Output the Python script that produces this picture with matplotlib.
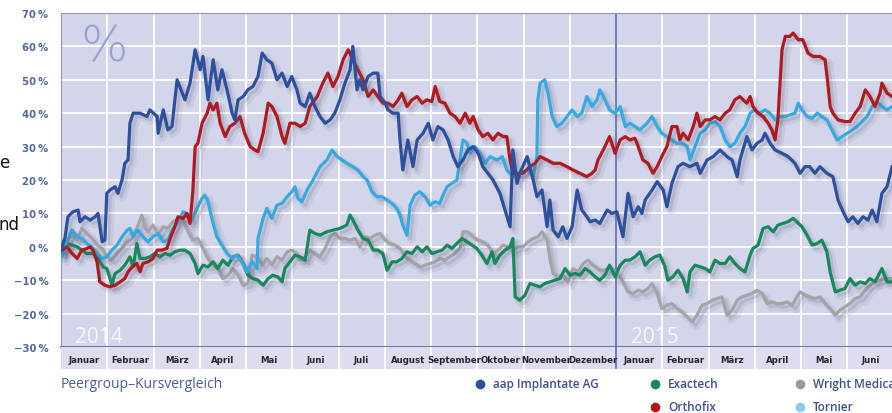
import matplotlib
matplotlib.use('Agg')
import matplotlib.pyplot as plt
import matplotlib.patheffects as pe
from matplotlib.lines import Line2D

# Monatsachse: 0 = Anfang Januar 2014, 18 = Ende Juni 2015; Werte in Prozent
months = ['Januar', 'Februar', 'März', 'April', 'Mai', 'Juni', 'Juli', 'August',
          'September', 'Oktober', 'November', 'Dezember',
          'Januar', 'Februar', 'März', 'April', 'Mai', 'Juni']
y_ticks = [-30, -20, -10, 0, 10, 20, 30, 40, 50, 60, 70]

aap_x = [0.00, 0.09, 0.15, 0.26, 0.37, 0.41, 0.52, 0.63, 0.74, 0.80, 0.89, 0.95, 0.99, 1.06, 1.17, 1.23,
         1.32, 1.38, 1.45, 1.49, 1.56, 1.71, 1.86, 1.92, 2.08, 2.10, 2.21, 2.31, 2.40, 2.51, 2.68, 2.79,
         2.90, 3.01, 3.07, 3.18, 3.29, 3.39, 3.48, 3.59, 3.70, 3.76, 3.83, 3.94, 4.04, 4.15, 4.26, 4.35,
         4.45, 4.56, 4.67, 4.78, 4.89, 4.99, 5.10, 5.17, 5.28, 5.38, 5.49, 5.60, 5.71, 5.82, 5.92, 6.03,
         6.14, 6.25, 6.31, 6.40, 6.46, 6.53, 6.64, 6.75, 6.85, 6.90, 7.01, 7.07, 7.18, 7.29, 7.33, 7.39,
         7.50, 7.61, 7.70, 7.83, 7.94, 8.04, 8.15, 8.26, 8.37, 8.48, 8.58, 8.69, 8.80, 8.91, 9.02, 9.12,
         9.23, 9.34, 9.49, 9.60, 9.71, 9.77, 9.86, 9.92, 10.08, 10.21, 10.29, 10.40, 10.51, 10.57, 10.64,
         10.75, 10.85, 10.94, 11.05, 11.16, 11.26, 11.37, 11.44, 11.55, 11.65, 11.81, 11.91, 12.02, 12.15,
         12.26, 12.37, 12.48, 12.56, 12.63, 12.78, 12.89, 13.02, 13.10, 13.21, 13.34, 13.45, 13.60, 13.75,
         13.82, 13.97, 14.10, 14.25, 14.40, 14.51, 14.62, 14.68, 14.83, 14.94, 15.05, 15.16, 15.22, 15.33,
         15.44, 15.59, 15.72, 15.87, 15.98, 16.09, 16.19, 16.30, 16.41, 16.56, 16.69, 16.80, 16.91, 17.02,
         17.12, 17.23, 17.34, 17.45, 17.54, 17.64, 17.75, 17.86, 17.97]
aap_y = [-1, 3, 9, 10.5, 11, 7.5, 9, 8, 9, 10, 1.5, 2, 16, 17, 18, 16,
         20, 25, 26, 37, 40, 40, 39, 41, 39, 34, 41, 35, 36, 50, 44, 49,
         59, 53, 57, 44, 56, 47, 53, 47, 40, 38, 44, 45, 47, 48, 51, 58,
         56, 55, 50, 52, 48, 51, 47, 43, 42, 46, 42, 39, 37, 38, 40, 44,
         49, 53, 60, 47, 50, 47, 51, 52, 52, 45, 43, 41, 40, 40, 32, 23,
         32, 24, 32, 34, 37, 32, 36, 35, 32, 27, 24, 26, 29, 30, 28, 24,
         22, 20, 16, 11, 6, 29, 19, 22, 27, 20, 15, 17, 6, 14, 5,
         3, 6, 2.5, 6, 17, 11, 9, 7.5, 8, 7, 11, 10, 10.5, 3,
         16, 9, 12, 10, 14, 17, 19.5, 17, 12, 19, 24, 25, 24, 25,
         22, 26, 27, 29, 27, 26, 21, 26, 33, 29, 31, 32, 34, 31,
         29, 28, 27, 25, 22, 24, 24, 22, 24, 22, 21, 14, 10.5, 7.5,
         9, 7, 9, 8, 11, 7.5, 16, 18, 24]

ortho_x = [0.02, 0.13, 0.24, 0.35, 0.45, 0.56, 0.63, 0.69, 0.78, 0.84, 0.95, 1.06, 1.17, 1.28, 1.38, 1.45,
           1.54, 1.64, 1.71, 1.77, 1.88, 1.99, 2.08, 2.18, 2.29, 2.36, 2.46, 2.53, 2.64, 2.72, 2.79, 2.85,
           2.90, 2.96, 3.05, 3.16, 3.22, 3.29, 3.37, 3.44, 3.55, 3.65, 3.76, 3.87, 3.97, 4.09, 4.19, 4.26,
           4.37, 4.48, 4.56, 4.67, 4.78, 4.84, 4.95, 5.06, 5.17, 5.28, 5.38, 5.54, 5.66, 5.77, 5.88, 5.99,
           6.10, 6.21, 6.31, 6.42, 6.53, 6.64, 6.75, 6.85, 6.96, 7.07, 7.18, 7.29, 7.37, 7.48, 7.59, 7.70,
           7.81, 7.91, 8.02, 8.09, 8.19, 8.30, 8.41, 8.52, 8.63, 8.74, 8.84, 8.91, 9.02, 9.12, 9.23, 9.34,
           9.45, 9.56, 9.64, 9.71, 9.77, 9.88, 9.99, 10.14, 10.25, 10.36, 10.51, 10.64, 10.79, 10.94, 11.07,
           11.22, 11.37, 11.48, 11.55, 11.61, 11.65, 11.76, 11.86, 11.98, 12.09, 12.20, 12.30, 12.41, 12.48,
           12.58, 12.69, 12.80, 12.89, 12.99, 13.10, 13.21, 13.32, 13.38, 13.45, 13.56, 13.67, 13.75, 13.82,
           13.93, 14.03, 14.14, 14.25, 14.36, 14.46, 14.57, 14.68, 14.75, 14.83, 14.90, 14.96, 15.07, 15.18,
           15.29, 15.37, 15.44, 15.50, 15.59, 15.66, 15.76, 15.83, 15.94, 16.04, 16.15, 16.26, 16.41, 16.52,
           16.58, 16.63, 16.69, 16.80, 16.95, 17.06, 17.17, 17.28, 17.39, 17.49, 17.60, 17.71, 17.75, 17.86,
           17.97]
ortho_y = [-1, 0, -2, -3.5, -1, -0.5, 0, -1, -4.5, -10.5, -11.5, -12, -11.5, -10.5, -9.5, -7.5,
           -6, -5, -7.5, -5, -4.5, -3.5, -1, -1, -0.5, 2.5, 6, 9, 8.5, 10, 7, 16.5,
           30, 31, 37, 40, 43, 41, 43, 37, 33, 36, 37, 39, 34, 30, 29, 28.5,
           34, 43, 42, 39, 33, 31, 37, 37, 36, 37, 42, 45, 49, 52, 48, 51,
           56, 59, 56, 53, 50, 45, 47, 45, 43, 43, 42, 44, 46, 42, 44, 45,
           43, 44, 43.5, 48, 43.5, 43, 40, 39, 37, 40, 37, 39, 35, 33, 34, 32,
           34, 33, 33, 26, 22, 22, 22, 24, 25, 27, 26, 25, 25, 24, 23,
           22, 21, 22, 23, 26, 27, 30, 33, 28, 32, 33, 32, 32.5, 30,
           26, 25, 22, 24, 27, 30, 36, 36, 32, 34, 32, 36, 40, 36,
           38, 38, 39, 38, 40, 41, 44, 45, 44, 43, 45, 42, 40, 39,
           37, 35, 32, 38, 59, 63, 63, 64, 62, 62, 58, 57, 57, 56,
           49, 42, 40, 38, 37.5, 37.5, 40, 42, 47, 45, 42, 46, 49, 46,
           45]

tornier_x = [0.02, 0.13, 0.24, 0.35, 0.45, 0.56, 0.67, 0.78, 0.89, 0.99, 1.10, 1.21, 1.32, 1.43, 1.49, 1.56,
             1.66, 1.77, 1.88, 1.99, 2.10, 2.21, 2.31, 2.42, 2.53, 2.64, 2.72, 2.83, 2.94, 3.05, 3.11, 3.18,
             3.26, 3.37, 3.48, 3.59, 3.70, 3.81, 3.91, 4.02, 4.13, 4.24, 4.26, 4.37, 4.45, 4.56, 4.67, 4.78,
             4.89, 4.99, 5.06, 5.12, 5.21, 5.32, 5.45, 5.60, 5.75, 5.86, 5.97, 6.08, 6.18, 6.31, 6.42, 6.53,
             6.62, 6.72, 6.83, 6.94, 7.05, 7.16, 7.26, 7.33, 7.39, 7.48, 7.55, 7.65, 7.76, 7.87, 7.98, 8.09,
             8.19, 8.26, 8.35, 8.45, 8.56, 8.69, 8.78, 8.84, 8.95, 9.06, 9.17, 9.28, 9.43, 9.54, 9.64, 9.77,
             9.92, 10.08, 10.21, 10.29, 10.31, 10.36, 10.46, 10.53, 10.62, 10.72, 10.83, 10.94, 11.05, 11.16,
             11.26, 11.37, 11.48, 11.59, 11.65, 11.76, 11.86, 11.98, 12.09, 12.20, 12.30, 12.41, 12.52, 12.67,
             12.78, 12.89, 12.99, 13.10, 13.21, 13.32, 13.43, 13.54, 13.60, 13.71, 13.82, 13.93, 14.03, 14.14,
             14.25, 14.36, 14.46, 14.57, 14.68, 14.79, 14.90, 15.00, 15.11, 15.22, 15.33, 15.44, 15.55, 15.66,
             15.76, 15.87, 15.94, 16.02, 16.13, 16.24, 16.35, 16.45, 16.56, 16.67, 16.78, 16.89, 17.00, 17.11,
             17.21, 17.32, 17.43, 17.54, 17.64, 17.75, 17.86, 17.97]
tornier_y = [-3, 1.5, 5, 3, 2.5, 1, 0, -2, -3.5, -3, -1, 0.5, 3, 5, 5.5, 3,
             5, 3, 1.5, 3, 4, 1.5, 2, 5.5, 7.5, 10.5, 10, 8, 11.5, 14.5, 15.5, 13.5,
             8.5, 3, 0.5, -2, -3.5, -2.5, -4.5, -7.5, -4.5, -6.5, 2.5, 8.5, 11.5, 8.5, 12.5, 13,
             15, 16.5, 18, 14.5, 13.5, 17, 20, 24, 26, 29, 27, 26, 25, 24, 23, 21,
             20, 16.5, 15, 15, 14, 13, 11.5, 9.5, 6.5, 3.5, 12.5, 15.5, 16.5, 15, 12.5, 13.5,
             13, 15.5, 18, 19, 20, 32, 31, 28, 30, 28, 25, 27, 26, 27, 23, 21,
             22, 23, 21, 27, 44, 49, 50, 46, 39, 36, 37, 39, 41, 39,
             40, 45, 42, 44, 47, 44, 41, 40, 42, 36, 37, 36, 35, 37,
             39, 36, 34, 33, 32, 31, 31, 30, 26, 30, 34, 35, 37, 37.5,
             36, 32, 30, 31, 34, 36, 40, 41, 40, 41, 40, 38, 39, 39,
             39.5, 40, 43, 41, 39, 38.5, 40, 39, 38, 35, 32, 33, 34, 35,
             36, 37.5, 39, 42, 43.5, 42, 41, 42]

exactech_x = [0.02, 0.13, 0.24, 0.35, 0.45, 0.56, 0.67, 0.78, 0.84, 0.91, 0.99, 1.06, 1.10, 1.17, 1.28, 1.38,
              1.49, 1.56, 1.64, 1.71, 1.82, 1.92, 2.03, 2.14, 2.25, 2.36, 2.46, 2.57, 2.68, 2.79, 2.90, 2.96,
              3.07, 3.18, 3.29, 3.39, 3.50, 3.61, 3.72, 3.83, 3.94, 4.04, 4.15, 4.26, 4.37, 4.48, 4.58, 4.69,
              4.78, 4.84, 4.95, 5.06, 5.17, 5.28, 5.38, 5.49, 5.60, 5.75, 5.88, 6.03, 6.18, 6.25, 6.31, 6.42,
              6.53, 6.64, 6.75, 6.85, 6.96, 7.05, 7.16, 7.26, 7.37, 7.48, 7.59, 7.70, 7.81, 7.91, 8.02, 8.13,
              8.24, 8.35, 8.45, 8.56, 8.67, 8.78, 8.89, 8.99, 9.10, 9.21, 9.32, 9.38, 9.49, 9.60, 9.71, 9.77,
              9.82, 9.92, 10.03, 10.14, 10.25, 10.36, 10.46, 10.57, 10.68, 10.79, 10.90, 11.01, 11.11, 11.22,
              11.33, 11.44, 11.55, 11.65, 11.76, 11.86, 11.98, 12.09, 12.20, 12.30, 12.41, 12.52, 12.63, 12.73,
              12.84, 12.95, 13.06, 13.12, 13.23, 13.34, 13.45, 13.54, 13.60, 13.71, 13.82, 13.93, 14.03, 14.14,
              14.25, 14.36, 14.46, 14.57, 14.68, 14.79, 14.90, 14.96, 15.07, 15.18, 15.29, 15.40, 15.50, 15.61,
              15.72, 15.83, 15.91, 16.02, 16.13, 16.24, 16.35, 16.45, 16.56, 16.63, 16.74, 16.84, 16.95, 17.06,
              17.17, 17.28, 17.39, 17.49, 17.60, 17.75, 17.86, 17.97]
exactech_y = [-2, 1, 0.5, 0, -1, -2, -2, -2.5, -4.5, -6, -6.5, -9.5, -11.5, -8, -7, -5.5,
              -3, -6, 1, -3.5, -3.5, -3, -2, -3, -2, -2.5, -1.5, -1, -1, -2, -5, -8,
              -5.5, -6, -4.5, -6.5, -4, -5.5, -3, -2.5, -5, -8.5, -9.5, -10, -11.5, -9.5, -8.5, -9,
              -10.5, -6.5, -4.5, -2.5, -3, -4, 5, 4, 3.5, 4.5, 5, 5.5, 6.5, 9.5, 8, 5,
              2.5, 2, -1, -1, -2, -7, -4.5, -4.5, -3.5, -1.5, -2, 0, -1.5, 0, -2, -1.5,
              -1, 0.5, -0.5, 1, 2.5, 1.5, 0.5, -0.5, -2.5, -5, -1.5, -5, -2.5, -1, 0, 2.5,
              -15, -16, -14.5, -11, -11.5, -12, -11, -10.5, -10, -9.5, -6.5, -8.5, -8, -8.5,
              -6.5, -7.5, -9, -10, -8.5, -5.5, -9, -5.5, -4, -4, -3, -1.5, -5.5, -4,
              -3, -2.5, -6, -10, -9, -7, -9.5, -13.5, -7.5, -5.5, -6, -6.5, -7.5, -4,
              -5, -5, -3, -5, -6.5, -7.5, -2.5, -0.5, 0.5, 5.5, 6, 4.5, 6.5, 7,
              7.5, 8.5, 7.5, 6, 3.5, 0.5, 1, 2, -1.5, -7.5, -13.5, -13, -12.5, -9.5,
              -11.5, -10.5, -11, -9.5, -10.5, -6.5, -10.5, -10.5]

wright_x = [0.02, 0.13, 0.24, 0.35, 0.45, 0.56, 0.67, 0.78, 0.89, 0.99, 1.10, 1.21, 1.32, 1.43, 1.54, 1.64,
            1.75, 1.82, 1.88, 1.99, 2.10, 2.21, 2.31, 2.42, 2.53, 2.64, 2.75, 2.85, 2.96, 3.07, 3.18, 3.29,
            3.39, 3.50, 3.61, 3.72, 3.83, 3.94, 4.04, 4.13, 4.24, 4.35, 4.45, 4.56, 4.67, 4.78, 4.89, 4.99,
            5.10, 5.17, 5.28, 5.38, 5.49, 5.60, 5.71, 5.82, 5.92, 6.03, 6.14, 6.25, 6.36, 6.46, 6.57, 6.68,
            6.79, 6.90, 7.01, 7.11, 7.22, 7.33, 7.44, 7.55, 7.65, 7.76, 7.87, 7.98, 8.09, 8.19, 8.30, 8.41,
            8.52, 8.63, 8.69, 8.80, 8.91, 9.02, 9.12, 9.23, 9.34, 9.45, 9.56, 9.66, 9.77, 9.88, 9.99, 10.10,
            10.21, 10.31, 10.40, 10.51, 10.57, 10.64, 10.75, 10.85, 10.96, 11.07, 11.18, 11.29, 11.40, 11.50,
            11.61, 11.65, 11.76, 11.86, 11.98, 12.09, 12.15, 12.26, 12.37, 12.48, 12.58, 12.69, 12.78, 12.89,
            12.99, 13.10, 13.21, 13.32, 13.43, 13.54, 13.65, 13.75, 13.86, 13.97, 14.08, 14.19, 14.29, 14.40,
            14.51, 14.62, 14.72, 14.83, 14.94, 15.05, 15.16, 15.27, 15.37, 15.48, 15.59, 15.70, 15.81, 15.91,
            15.98, 16.09, 16.19, 16.30, 16.41, 16.52, 16.63, 16.74, 16.84, 16.95, 17.06, 17.17, 17.28, 17.39,
            17.49, 17.60, 17.71, 17.86, 17.97]
wright_y = [-1, 2, 3.5, 2, 5.5, 4, 2.5, 0.5, -0.5, -3, -4, -2, -0.5, 1.5, 2.5, 5.5,
            9.5, 5.5, 4.5, 6.5, 3.5, 6, 5.5, 7.5, 8.5, 8, 4.5, 2, 2.5, -0.5, -3.5, -5.5,
            -6.5, -9.5, -8.5, -6.5, -8.5, -11.5, -11, -2.5, -3, -5.5, -3.5, -5.5, -3, -4, -1.5, -1,
            -2, -4, -3, -1, -2, -3, -0.5, 3, 4, 2.5, 2.5, 2, 2.5, 0, 3, 2.5,
            3.5, 4, 2, 1, 0.5, -0.5, -3, -4, -5, -6, -5.5, -5, -4.5, -3.5, -4, -3,
            -2, -0.5, 4.5, 4.5, 3, 2, 1.5, 0.5, -2, -1, 0.5, 0, -1, 0, 0, 1.5,
            2.5, 3, 4.5, 2, -3.5, -8, -9, -8.5, -10.5, -6.5, -7.5, -5, -4, -5.5,
            -6.5, -7, -7, -6, -7.5, -9, -10.5, -13.5, -14, -13, -13.5, -12.5, -11, -14,
            -18.5, -17.5, -17, -18.5, -19.5, -21, -22.5, -20.5, -17.5, -17, -16, -15.5, -15, -20.5,
            -19, -16, -15, -14.5, -14, -13, -14, -17, -16.5, -17, -17, -16.5, -17.5, -15,
            -13.5, -14.5, -15, -15.5, -15, -17, -18.5, -20.5, -19, -18, -17, -15.5, -15, -13,
            -11.5, -10.5, -10, -9.5, -9.5]

W, H = 892, 414
fig = plt.figure(figsize=(W / 100, H / 100), dpi=100)


def box(x0, y0, x1, y1):
    # pixel box (top-left origin) -> figure rect
    return [x0 / W, 1 - y1 / H, (x1 - x0) / W, (y1 - y0) / H]


def fx(x):
    return x / W


def fy(y):
    return 1 - y / H


ax = fig.add_axes(box(61, 14, 893.5, 348))
ax.set_facecolor('#d3d5eb')
ax.set_xlim(0, 18)
ax.set_ylim(-30, 70)
ax.set_xticks(range(19))
ax.set_xticklabels([])
ax.set_yticks(y_ticks)
ax.set_yticklabels([('\u2212' if v < 0 else '') + str(abs(v)) + '\u2009%' for v in y_ticks],
                   fontsize=7.3, fontweight='bold', color='#56669f')
ax.tick_params(length=0, pad=9)
ax.grid(True, color='white', lw=1.3)
ax.set_axisbelow(True)
ax.spines['right'].set_visible(False)
ax.spines['top'].set_color('#8d98c8')
ax.spines['left'].set_color('#8d98c8')
ax.spines['bottom'].set_color('#5568ab')
ax.spines['bottom'].set_linewidth(1.3)
ax.axvline(12, color='#4a5aa6', lw=1.1, zorder=1.5)

shadow = [pe.SimpleLineShadow(offset=(3, -3), shadow_color='#555870', alpha=0.09, linewidth=6),
          pe.SimpleLineShadow(offset=(2.5, -2.5), shadow_color='#555870', alpha=0.16),
          pe.Normal()]

series = [
    (wright_x, wright_y, '#a4a4a8'),
    (exactech_x, exactech_y, '#17885c'),
    (tornier_x, tornier_y, '#35aae2'),
    (ortho_x, ortho_y, '#b2191f'),
    (aap_x, aap_y, '#2c4f9e'),
]
for xs, ys, c in series:
    ax.plot(xs, ys, color=c, lw=2.3, solid_joinstyle='round', path_effects=shadow, zorder=3)

# Monatsband unter der Achse
bax = fig.add_axes(box(61, 348, 893.5, 370))
bax.set_facecolor('#dcdef0')
bax.set_xlim(0, 18)
bax.set_ylim(0, 1)
bax.set_xticks([])
bax.set_yticks([])
for s in bax.spines.values():
    s.set_visible(False)
for k in range(1, 18):
    bax.axvline(k, color='white', lw=1.3)
bax.axvline(12, color='#4a5aa6', lw=1.1)
for k, name in enumerate(months):
    bax.text(k + 0.5, 0.45, name, ha='center', va='center', fontsize=6.2, fontweight='bold',
             color='#23252e', family=['Liberation Sans Narrow', 'DejaVu Sans'])

# Grosses Prozentzeichen und Jahreszahlen
fig.text(fx(80), fy(61), '%', fontsize=36, color='#98a1cf', family='DejaVu Sans',
         fontweight='light')
fig.text(fx(75), fy(343), '2014', fontsize=15, color='white', alpha=0.85, family='Open Sans')
fig.text(fx(631), fy(343), '2015', fontsize=15, color='white', alpha=0.85, family='Open Sans')

# Titel und Legende
fig.text(fx(61), fy(385), 'Peergroup\u2013Kursvergleich', fontsize=10, color='#4a5c9c',
         family='Open Sans', va='center')
legend = [
    (480, 385, 'aap Implantate AG', '#2c4f9e'),
    (655, 385, 'Exactech', '#17885c'),
    (800, 385, 'Wright Medical', '#9a9a9e'),
    (655, 408, 'Orthofix', '#b2191f'),
    (800, 408, 'Tornier', '#8ccbee'),
]
for x, y, label, c in legend:
    fig.add_artist(Line2D([fx(x)], [fy(y)], marker='o', markersize=6, color=c,
                          transform=fig.transFigure))
    fig.text(fx(x + 13), fy(y), label, fontsize=8.5, color='#3d4f8f', family='Open Sans',
             fontweight='semibold', va='center')

# Textreste vom Seitenrand
fig.text(fx(-1), fy(163), 'e', fontsize=12, color='#111111', va='center')
fig.text(fx(-1), fy(225), 'nd', fontsize=12, color='#111111', va='center')

fig.savefig('out.png', dpi=100)
